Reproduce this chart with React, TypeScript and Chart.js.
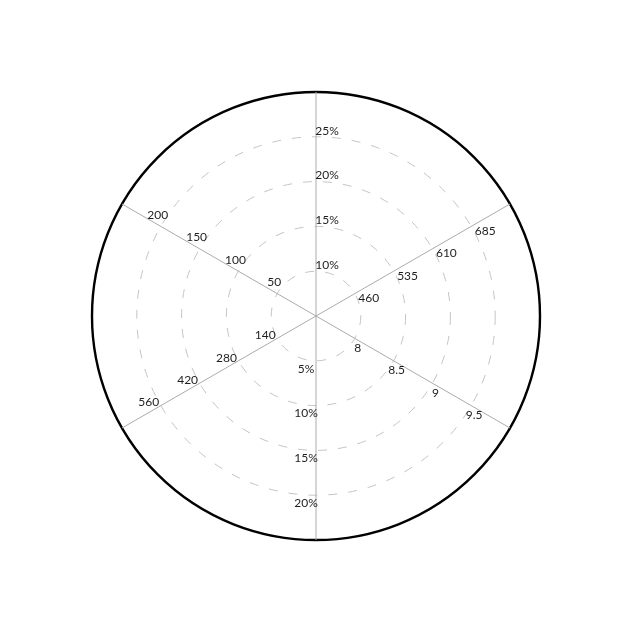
import Chart, { ChartOptions, Plugin } from 'chart.js/auto'
import React, { useEffect, useRef } from 'react'

// six spokes, clockwise from the top
const axisNames = ['a', 'b', 'c', 'd', 'e', 'f']

// tick labels on each spoke, innermost ring first
const ticksTop = ['10%', '15%', '20%', '25%']
const ticksUpperRight = ['460', '535', '610', '685']
const ticksLowerRight = ['8', '8.5', '9', '9.5']
const ticksBottom = ['5%', '10%', '15%', '20%']
const ticksLowerLeft = ['140', '280', '420', '560']
const ticksUpperLeft = ['50', '100', '150', '200']

const axisTicks = [
  ticksTop,
  ticksUpperRight,
  ticksLowerRight,
  ticksBottom,
  ticksLowerLeft,
  ticksUpperLeft,
]

// label offset from the ring crossing, per spoke
const labelOffsets = [
  { dx: 11, dy: -6 },
  { dx: 14, dy: 4.5 },
  { dx: 3, dy: 9.5 },
  { dx: -10, dy: 8 },
  { dx: -12, dy: -3 },
  { dx: -3, dy: -11.5 },
]

const spokeLabels: Plugin<'radar'> = {
  id: 'spokeLabels',
  afterDraw(chart) {
    const scale: any = chart.scales.r
    const { ctx } = chart
    ctx.save()
    ctx.font = '12px Lato, "Open Sans", sans-serif'
    ctx.fillStyle = '#1e1e1e'
    ctx.textAlign = 'center'
    ctx.textBaseline = 'middle'
    axisTicks.forEach((labels, i) => {
      labels.forEach((text, j) => {
        const p = scale.getPointPositionForValue(i, j + 1)
        ctx.fillText(text, p.x + labelOffsets[i].dx, p.y + labelOffsets[i].dy)
      })
    })
    ctx.restore()
  },
}

const options: ChartOptions<'radar'> = {
  responsive: true,
  maintainAspectRatio: false,
  animation: false,
  layout: { padding: 84 },
  plugins: {
    legend: { display: false },
    tooltip: { enabled: false },
  },
  scales: {
    r: {
      min: 0,
      max: 5,
      startAngle: 0,
      ticks: { display: false, stepSize: 1 },
      pointLabels: { display: false },
      angleLines: { color: '#ababab', lineWidth: 1 },
      grid: {
        circular: true,
        color: (c) => (c.index === 5 ? '#000000' : '#c4c4c4'),
        lineWidth: (c) => (c.index === 5 ? 2.4 : 1),
      },
      border: {
        dash: (c) => (c.index === 5 ? [] : [9, 11]),
      },
    },
  },
}

const App: React.FC = () => {
  const chartRef = useRef<HTMLCanvasElement>(null)
  const chartInstanceRef = useRef<Chart<'radar'> | null>(null)

  useEffect(() => {
    if (chartRef.current) {
      chartInstanceRef.current = new Chart(chartRef.current, {
        type: 'radar',
        data: { labels: axisNames, datasets: [] },
        options,
        plugins: [spokeLabels],
      })
    }
    return () => {
      if (chartInstanceRef.current) {
        chartInstanceRef.current.destroy()
      }
    }
  }, [])

  return (
    <div style={{ width: '616px', height: '616px', background: '#fff' }}>
      <canvas ref={chartRef} style={{ width: '100%', height: '100%' }} />
    </div>
  )
}

export default App
